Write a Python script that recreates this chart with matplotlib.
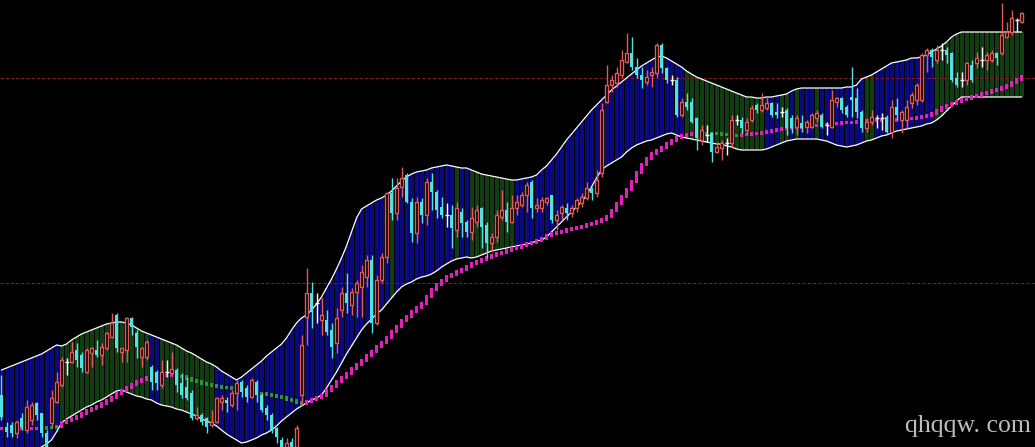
import matplotlib.pyplot as plt
import numpy as np

# Price data (price scale: bottom edge = 0, top edge = 447)
opens = [52, 20, 22, 14, 29, 17, 27, 44, 34, 14,
         24, 45, 62, 85, 85, 97, 92, 75, 94, 97,
         92, 99, 110, 132, 95, 97, 129, 114, 90, 90,
         80, 75, 62, 75, 74, 77, 64, 60, 54, 29,
         32, 29, 22, 25, 45, 47, 42, 54, 65, 59,
         50, 65, 52, 39, 32, 19, 7, 0, 5, 0,
         52, 130, 154, 144, 127, 127, 117, 104, 137, 154,
         142, 155, 160, 170, 187, 124, 167, 190, 254, 234,
         260, 272, 245, 214, 245, 232, 265, 255, 240, 232,
         232, 217, 235, 225, 215, 225, 239, 222, 204, 210,
         230, 237, 225, 239, 242, 252, 265, 239, 239, 245,
         252, 227, 234, 239, 234, 239, 244, 249, 259, 254,
         274, 345, 362, 364, 372, 385, 394, 380, 372, 365,
         372, 374, 402, 379, 367, 367, 332, 345, 345, 329,
         307, 312, 314, 295, 299, 304, 304, 327, 327, 317,
         327, 342, 337, 339, 344, 335, 335, 337, 329, 320,
         324, 320, 320, 329, 332, 322, 320, 345, 349, 340,
         350, 349, 335, 319, 325, 329, 329, 330, 315, 340,
         327, 327, 344, 347, 347, 392, 397, 387, 397, 397,
         394, 369, 367, 367, 382, 384, 387, 387, 387, 394,
         394, 410, 415, 427, 425]
closes = [30, 15, 14, 25, 20, 40, 42, 32, 14, 0,
          49, 65, 87, 85, 95, 87, 79, 97, 99, 92,
          100, 114, 124, 99, 99, 129, 120, 100, 99, 105,
          65, 64, 75, 75, 78, 62, 52, 49, 29, 32,
          25, 20, 25, 49, 49, 44, 54, 64, 55, 50,
          67, 52, 37, 32, 17, 10, 0, 4, 0, 19,
          102, 154, 135, 144, 132, 115, 100, 129, 154, 144,
          155, 164, 175, 187, 124, 167, 190, 254, 234, 259,
          269, 245, 214, 245, 232, 265, 255, 237, 232, 232,
          219, 239, 224, 215, 229, 237, 220, 204, 210, 232,
          237, 225, 239, 245, 252, 262, 239, 242, 247, 249,
          227, 232, 240, 234, 239, 247, 250, 259, 254, 267,
          337, 362, 367, 374, 387, 394, 380, 372, 367, 370,
          375, 402, 379, 367, 367, 332, 345, 340, 325, 309,
          317, 312, 295, 300, 304, 304, 327, 327, 319, 325,
          339, 337, 342, 344, 332, 332, 335, 319, 319, 329,
          319, 325, 332, 334, 320, 322, 347, 349, 337, 332,
          347, 335, 319, 325, 330, 329, 329, 315, 340, 332,
          335, 340, 352, 362, 392, 397, 390, 397, 397, 392,
          367, 362, 367, 384, 367, 389, 387, 392, 394, 389,
          412, 415, 429, 427, 434]
highs = [72, 25, 25, 27, 34, 47, 45, 45, 34, 17,
         57, 75, 90, 89, 105, 104, 95, 99, 100, 107,
         104, 115, 134, 134, 99, 130, 130, 117, 100, 107,
         82, 77, 87, 87, 95, 79, 74, 70, 57, 40,
         34, 30, 37, 50, 52, 50, 57, 67, 67, 62,
         69, 67, 54, 42, 34, 20, 10, 9, 9, 22,
         112, 179, 165, 154, 149, 137, 124, 139, 160, 174,
         159, 167, 182, 192, 192, 172, 194, 255, 269, 269,
         280, 274, 249, 250, 249, 269, 274, 257, 250, 244,
         242, 245, 239, 227, 240, 242, 240, 225, 214, 237,
         257, 245, 252, 252, 255, 265, 267, 249, 250, 250,
         252, 237, 242, 244, 242, 249, 254, 265, 260, 277,
         344, 382, 372, 380, 397, 414, 410, 389, 380, 377,
         380, 404, 404, 380, 372, 370, 349, 354, 349, 330,
         322, 322, 315, 305, 307, 309, 332, 332, 330, 329,
         342, 344, 354, 350, 345, 344, 340, 339, 332, 332,
         332, 327, 334, 337, 334, 325, 357, 350, 350, 342,
         380, 359, 337, 329, 337, 332, 334, 332, 347, 349,
         337, 347, 355, 364, 394, 399, 399, 402, 404, 400,
         395, 375, 375, 385, 387, 395, 400, 395, 397, 395,
         444, 425, 437, 429, 435]
lows = [27, 10, 10, 9, 17, 14, 22, 27, 10, -3,
        20, 44, 60, 72, 84, 80, 75, 74, 80, 90,
        82, 97, 109, 95, 85, 85, 112, 89, 80, 87,
        57, 57, 59, 70, 72, 55, 49, 47, 27, 27,
        22, 14, 20, 24, 37, 35, 40, 37, 50, 45,
        49, 45, 35, 27, 14, 4, -5, -5, -5, -5,
        42, 102, 119, 124, 112, 112, 89, 94, 130, 134,
        132, 130, 130, 160, 114, 122, 164, 184, 227, 227,
        250, 244, 205, 204, 224, 222, 237, 229, 229, 220,
        199, 210, 210, 210, 207, 220, 199, 189, 195, 205,
        227, 215, 224, 232, 240, 235, 229, 235, 235, 242,
        224, 217, 227, 227, 230, 235, 240, 247, 247, 250,
        270, 344, 355, 360, 369, 384, 377, 369, 359, 362,
        360, 370, 374, 364, 362, 330, 330, 337, 324, 297,
        302, 305, 285, 294, 287, 292, 300, 322, 314, 312,
        325, 334, 335, 337, 330, 329, 330, 312, 314, 312,
        315, 314, 319, 325, 319, 312, 319, 340, 334, 330,
        330, 329, 315, 315, 322, 319, 317, 314, 309, 327,
        314, 319, 339, 342, 345, 375, 380, 384, 387, 384,
        365, 360, 360, 362, 365, 379, 380, 377, 385, 382,
        392, 409, 412, 415, 424]

# channel: upper / lower band and middle average
upper = [77, 79, 81, 83, 85, 87, 89, 91, 93, 96,
         99, 102, 101, 103, 107, 110, 113, 115, 117, 119,
         121, 123, 124, 125, 125, 124, 122, 119, 116, 114,
         112, 110, 108, 106, 104, 102, 99, 96, 94, 91,
         88, 85, 83, 80, 76, 73, 70, 67, 70, 74,
         78, 82, 86, 91, 95, 99, 103, 109, 117, 124,
         129, 132, 137, 143, 150, 159, 168, 178, 189, 201,
         215, 229, 238, 241, 244, 247, 249, 252, 256, 261,
         266, 270, 273, 275, 276, 277, 279, 280, 281, 282,
         281, 280, 279, 279, 277, 275, 273, 272, 271, 270,
         269, 268, 267, 267, 268, 269, 270, 272, 277, 281,
         287, 293, 300, 307, 313, 319, 325, 331, 337, 342,
         347, 352, 357, 361, 365, 369, 373, 377, 381, 384,
         387, 390, 391, 389, 386, 383, 380, 376, 373, 370,
         368, 366, 364, 362, 360, 358, 356, 354, 352, 350,
         350, 349, 349, 350, 350, 351, 352, 353, 356, 358,
         359, 359, 359, 359, 359, 359, 359, 359, 359, 360,
         360, 362, 368, 370, 372, 375, 378, 381, 384, 385,
         386, 387, 389, 389, 390, 392, 395, 398, 401, 405,
         410, 413, 415, 415, 415, 415, 415, 415, 415, 415,
         415, 415, 415, 415, 415]
lower = [-21, -19, -16, -13, -10, -7, -5, -3, 0, 3,
         7, 15, 24, 28, 31, 34, 37, 40, 42, 45,
         47, 50, 53, 56, 57, 55, 53, 51, 50, 48,
         47, 44, 42, 41, 40, 38, 37, 35, 33, 31,
         28, 26, 24, 21, 17, 13, 10, 7, 4, 5,
         7, 9, 12, 14, 17, 21, 26, 30, 34, 38,
         41, 44, 47, 49, 52, 59, 67, 75, 84, 93,
         101, 109, 117, 123, 128, 133, 137, 143, 149, 155,
         160, 163, 165, 168, 170, 171, 173, 176, 180, 183,
         186, 188, 189, 190, 189, 190, 192, 194, 196, 197,
         198, 199, 200, 201, 202, 203, 204, 206, 207, 210,
         215, 220, 225, 230, 235, 240, 245, 252, 260, 269,
         277, 281, 284, 287, 290, 295, 299, 302, 304, 306,
         307, 309, 311, 313, 314, 312, 310, 309, 308, 307,
         306, 305, 304, 303, 303, 301, 300, 298, 297, 297,
         297, 297, 297, 298, 300, 302, 304, 306, 307, 308,
         308, 308, 308, 308, 307, 306, 304, 302, 301, 300,
         301, 302, 304, 306, 307, 309, 311, 312, 314, 316,
         317, 318, 319, 320, 321, 323, 324, 327, 331, 336,
         341, 346, 350, 350, 350, 350, 350, 350, 350, 350,
         350, 350, 350, 350, 350]
mid = [19, 19, 19, 19, 19, 19, 19, 19, 19, 20,
       20, 21, 25, 27, 29, 31, 34, 37, 39, 41,
       44, 47, 50, 54, 57, 60, 63, 66, 68, 70,
       71, 72, 72, 72, 72, 71, 71, 69, 67, 66,
       64, 63, 62, 61, 60, 60, 59, 58, 57, 56,
       55, 54, 54, 53, 52, 51, 50, 48, 47, 45,
       44, 46, 48, 50, 52, 57, 61, 66, 70, 74,
       79, 83, 87, 92, 96, 101, 105, 110, 116, 121,
       127, 131, 136, 140, 144, 151, 158, 163, 167, 171,
       173, 176, 178, 181, 184, 186, 188, 190, 192, 194,
       195, 197, 199, 200, 202, 204, 205, 207, 209, 212,
       214, 215, 216, 218, 219, 220, 221, 223, 224, 226,
       228, 231, 237, 244, 251, 258, 266, 275, 283, 289,
       294, 297, 300, 304, 307, 310, 312, 313, 314, 314,
       314, 314, 314, 314, 313, 313, 312, 312, 313, 313,
       314, 314, 315, 316, 317, 318, 319, 319, 320, 320,
       321, 321, 322, 322, 323, 323, 324, 324, 325, 325,
       325, 326, 326, 327, 327, 327, 327, 327, 327, 328,
       328, 329, 329, 330, 331, 332, 334, 337, 340, 342,
       344, 346, 348, 349, 351, 352, 354, 355, 357, 358,
       360, 362, 365, 368, 371]

# bars where the channel fill is green instead of blue
band_green = (list(range(12, 30)) + list(range(32, 43)) + [78, 91] + list(range(94, 103))
              + list(range(137, 153)) + [156, 157, 159, 163, 173, 174] + list(range(187, 205)))
# bars where the middle line is drawn green
mid_green = list(range(8, 12)) + list(range(35, 61)) + list(range(139, 148))
levels = [369, 164]

opens, closes, highs, lows = map(np.array, (opens, closes, highs, lows))
upper, lower, mid = map(np.array, (upper, lower, mid))
x = np.arange(len(closes))

fig = plt.figure(figsize=(10.35, 4.47), dpi=100, facecolor='black')
ax = fig.add_axes([0, 0, 1, 1])
ax.set_facecolor('black')

# channel fill, one stripe per bar
band_colors = ['#123c12' if i in band_green else '#0a0a7c' for i in x]
ax.bar(x, upper - lower, bottom=lower, width=0.8, color=band_colors, linewidth=0, zorder=1)

for lv in levels:
    ax.axhline(lv, color='#8b1c1c', lw=0.75, ls=(0, (3, 2)), zorder=2)

ax.plot(x, upper, color='white', lw=0.9, zorder=3)
ax.plot(x, lower, color='white', lw=0.9, zorder=3)

# middle line as small blocks
prev = np.r_[mid[0], mid[:-1]]
lo = np.minimum(prev, mid) - 1.5
hi = np.maximum(prev, mid) + 1.5
mid_colors = ['#2f962f' if i in mid_green else '#e61ebe' for i in x]
ax.bar(x, hi - lo, bottom=lo, width=0.65, color=mid_colors, linewidth=0, zorder=4)

# candles
up = closes > opens
down = closes < opens
flat = closes == opens
red = '#e05a5a'
cyan = '#4fe3e3'
wick_colors = [red if u else (cyan if d else 'white') for u, d in zip(up, down)]
ax.vlines(x, lows, highs, colors=wick_colors, lw=1, zorder=5)
ax.bar(x[up], (closes - opens)[up], bottom=opens[up], width=0.62,
       facecolor='black', edgecolor=red, linewidth=1.0, zorder=6)
ax.bar(x[down], (opens - closes)[down], bottom=closes[down], width=0.75,
       color=cyan, linewidth=0, zorder=6)
ax.hlines(closes[flat], x[flat] - 0.4, x[flat] + 0.4, colors='white', lw=1, zorder=6)

ax.text(205.8, 15, 'qhqqw. com', color='#bdbdbd', fontsize=18.5, family='Liberation Serif',
        ha='right', va='baseline', zorder=7)

ax.set_xlim(-0.3, 206.7)
ax.set_ylim(0, 447)
ax.axis('off')

fig.savefig('out.png', dpi=100, facecolor='black')
plt.close()
